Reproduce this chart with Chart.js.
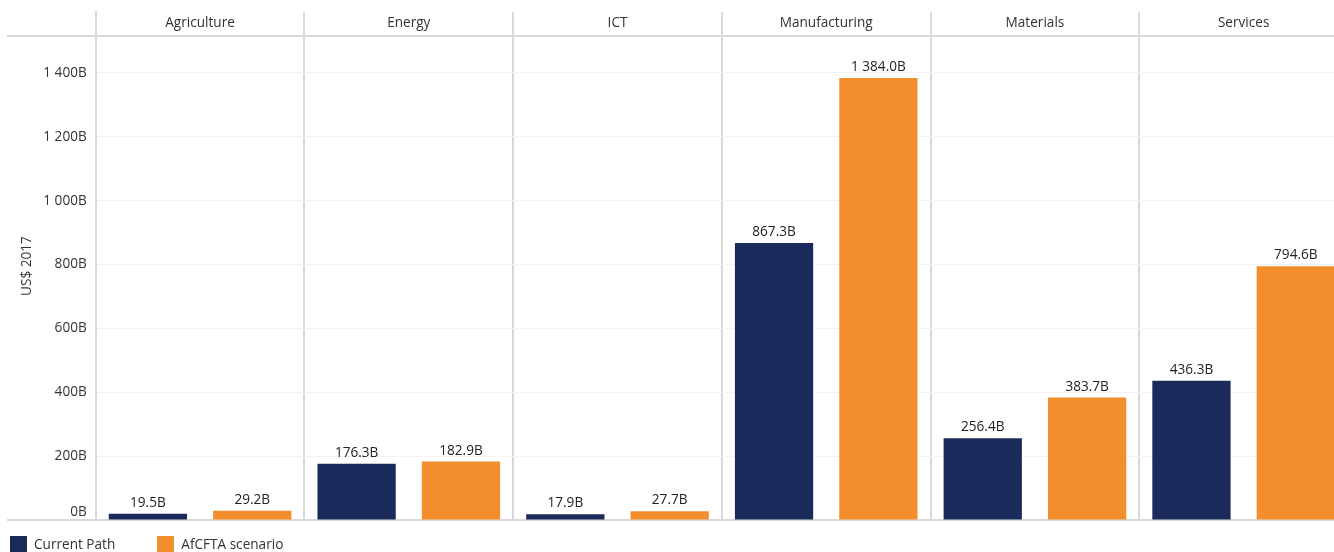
<!DOCTYPE html>
<html>
<head>
<meta charset="utf-8">
<script src="https://cdn.jsdelivr.net/npm/chart.js@4.4.1/dist/chart.umd.min.js"></script>
<style>
  html, body { margin: 0; padding: 0; background: #ffffff; overflow: hidden; }
  #wrap { position: relative; width: 1334px; height: 552px; overflow: hidden; }
  #box { position: absolute; left: 0; top: 0; width: 1350px; height: 552px; }
  #legend { position: absolute; left: 10px; top: 535px; display: flex; font-family: "Open Sans", sans-serif; font-size: 13.6px; line-height: 17px; color: #333; }
  #legend .item { display: flex; align-items: center; margin-right: 42px; }
  #legend .swatch { width: 17px; height: 16px; margin-right: 7px; }
</style>
</head>
<body>
<div id="wrap">
  <div id="box"><canvas id="chart"></canvas></div>
  <div id="legend"></div>
</div>
<script>
// Sectors shown as panels, one pair of bars each
const categories = ['Agriculture', 'Energy', 'ICT', 'Manufacturing', 'Materials', 'Services'];
// Value added, billions of US$ (2017)
const currentPath = [19.5, 176.3, 17.9, 867.3, 256.4, 436.3];
const afcftaScenario = [29.2, 182.9, 27.7, 1384.0, 383.7, 794.6];
const seriesNames = ['Current Path', 'AfCFTA scenario'];
const seriesColors = ['#1a2a5a', '#f28f2c'];
const yTicks = [0, 200, 400, 600, 800, 1000, 1200, 1400];
const yAxisTitle = 'US$ 2017';

const FONT = '"Open Sans", sans-serif';
const FS = 13.6;
const TEXT = '#333333';
const RULE = '#d9d9d9';
const HEADER_BAND = 24; // height of the sector-name row at the top of the plot

function groupThousands(str) {
  const [i, d] = str.split('.');
  const g = i.replace(/\B(?=(\d{3})+(?!\d))/g, ' ');
  return d !== undefined ? g + '.' + d : g;
}
const fmtValue = v => groupThousands(v.toFixed(1)) + 'B';
// the zero label sits above the baseline rule, so it gets an empty second line
const fmtTick = v => (v === 0 ? [groupThousands(String(v)) + 'B', ''] : groupThousands(String(v)) + 'B');

// Value labels above every bar
const barLabels = {
  id: 'barLabels',
  afterDatasetsDraw(chart) {
    const ctx = chart.ctx;
    ctx.save();
    ctx.font = FS + 'px ' + FONT;
    ctx.fillStyle = '#222222';
    ctx.textAlign = 'center';
    ctx.textBaseline = 'bottom';
    chart.data.datasets.forEach((ds, di) => {
      chart.getDatasetMeta(di).data.forEach((bar, i) => {
        ctx.fillText(fmtValue(ds.data[i]), bar.x, bar.y - 4);
      });
    });
    ctx.restore();
  }
};

// Rule under the sector-name row and the baseline, both running out to the left edge
const frameRules = {
  id: 'frameRules',
  beforeDatasetsDraw(chart) {
    const { ctx, chartArea } = chart;
    ctx.save();
    ctx.strokeStyle = RULE;
    ctx.lineWidth = 2;
    [chartArea.top + HEADER_BAND, chartArea.bottom].forEach(y => {
      ctx.beginPath();
      ctx.moveTo(7, y);
      ctx.lineTo(chart.width, y);
      ctx.stroke();
    });
    ctx.restore();
  }
};

const chart = new Chart(document.getElementById('chart'), {
  type: 'bar',
  data: {
    labels: categories,
    datasets: [
      { label: seriesNames[0], data: currentPath, backgroundColor: seriesColors[0] },
      { label: seriesNames[1], data: afcftaScenario, backgroundColor: seriesColors[1] }
    ]
  },
  options: {
    responsive: true,
    maintainAspectRatio: false,
    animation: false,
    categoryPercentage: 1.0,
    barPercentage: 0.75,
    layout: { padding: { left: 12, right: 2, top: 6, bottom: 32 } },
    plugins: {
      legend: { display: false },
      tooltip: { enabled: false }
    },
    scales: {
      x: {
        position: 'top',
        grid: { offset: true, color: RULE, lineWidth: 2, drawTicks: false },
        border: { display: false },
        ticks: { mirror: true, padding: 3, color: TEXT, font: { family: FONT, size: FS } }
      },
      y: {
        min: 0,
        max: 1591,
        afterBuildTicks(scale) { scale.ticks = yTicks.map(v => ({ value: v })); },
        // the top tick sits well below the header row, so no label overhang is needed
        afterFit(scale) { scale.paddingTop = 0; },
        grid: { color: '#f3f3f3', lineWidth: 1, drawTicks: false },
        border: { display: true, color: RULE, width: 2 },
        ticks: { padding: 9, color: TEXT, font: { family: FONT, size: FS }, callback: v => fmtTick(v) },
        title: { display: true, text: yAxisTitle, color: TEXT, font: { family: FONT, size: FS }, padding: { top: 7, bottom: -1 } }
      }
    }
  },
  plugins: [barLabels, frameRules]
});

// Legend built from the chart's datasets
const legend = document.getElementById('legend');
chart.data.datasets.forEach(ds => {
  const item = document.createElement('div');
  item.className = 'item';
  const sw = document.createElement('span');
  sw.className = 'swatch';
  sw.style.background = ds.backgroundColor;
  const txt = document.createElement('span');
  txt.textContent = ds.label;
  item.appendChild(sw);
  item.appendChild(txt);
  legend.appendChild(item);
});
</script>
</body>
</html>
